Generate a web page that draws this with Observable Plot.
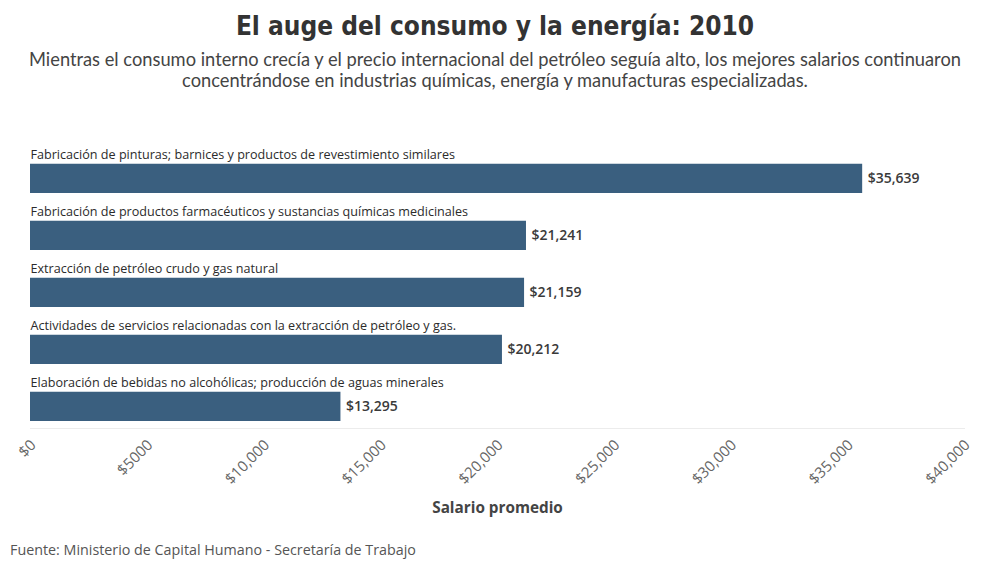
<!DOCTYPE html>
<html lang="es">
<head>
<meta charset="utf-8">
<script src="https://cdn.jsdelivr.net/npm/d3@7"></script>
<script src="https://cdn.jsdelivr.net/npm/@observablehq/plot@0.6"></script>
<style>
  html, body { margin: 0; padding: 0; background: #fff; }
  body { width: 990px; height: 570px; position: relative; overflow: hidden; font-family: "Open Sans", sans-serif; }
  #title { position: absolute; left: 0; width: 990px; top: 9px; text-align: center;
           font-family: "Liberation Sans Narrow", "DejaVu Sans Condensed", sans-serif;
           font-weight: 700; font-size: 26px; line-height: 34px; color: #333; }
  #subtitle { position: absolute; left: 0; width: 990px; top: 49px; text-align: center;
              font-family: Lato, sans-serif; font-size: 18.3px; line-height: 21px; color: #444; }
  #chart { position: absolute; left: 0; top: 130px; }
  #source { position: absolute; left: 10px; top: 541px; font-family: "Open Sans", sans-serif;
            font-size: 14.3px; line-height: 18px; color: #555; }
</style>
</head>
<body>
<div id="title">El auge del consumo y la energía: 2010</div>
<div id="subtitle">Mientras el consumo interno crecía y el precio internacional del petróleo seguía alto, los mejores salarios continuaron<br>concentrándose en industrias químicas, energía y manufacturas especializadas.</div>
<div id="chart"></div>
<div id="source">Fuente: Ministerio de Capital Humano - Secretaría de Trabajo</div>
<script>
// Sectors with the highest average salary, 2010
const sectors = [
  "Fabricación de pinturas; barnices y productos de revestimiento similares",
  "Fabricación de productos farmacéuticos y sustancias químicas medicinales",
  "Extracción de petróleo crudo y gas natural",
  "Actividades de servicios relacionadas con la extracción de petróleo y gas.",
  "Elaboración de bebidas no alcohólicas; producción de aguas minerales"
];
const salaries = [35639, 21241, 21159, 20212, 13295];

const tickValues = [0, 5000, 10000, 15000, 20000, 25000, 30000, 35000, 40000];
const tickLabels = ["$0", "$5000", "$10,000", "$15,000", "$20,000", "$25,000", "$30,000", "$35,000", "$40,000"];
const axisTitle = "Salario promedio";

const rows = sectors.map((sector, i) => ({sector, salary: salaries[i]}));
const money = d3.format("$,");
const barColor = "#3a5f7f";

const chart = Plot.plot({
  width: 990,
  height: 400,
  marginLeft: 30,
  marginRight: 26,
  marginTop: 9,
  marginBottom: 102,
  style: {fontFamily: "'Open Sans', sans-serif", background: "#fff"},
  x: {domain: [0, 40000]},
  y: {domain: sectors, padding: 0, axis: null},
  marks: [
    Plot.gridX(tickValues, {stroke: "#ececec", strokeOpacity: 1, y1: 4}),
    Plot.frame({anchor: "bottom", stroke: "#ececec"}),
    Plot.barX(rows, {x: "salary", y: "sector", fill: barColor, insetTop: 22.75, insetBottom: 5}),
    Plot.text(rows, {
      x: 0, y: "sector", text: "sector", textAnchor: "start", lineAnchor: "middle",
      dy: -15.2, fontSize: 12.6, fontWeight: 500, fill: "#2b2b2b"
    }),
    Plot.text(rows, {
      x: "salary", y: "sector", text: d => money(d.salary), textAnchor: "start", lineAnchor: "middle",
      dx: 5, dy: 8.9, fontSize: 14, fontWeight: 600, fill: "#3a3a3a"
    }),
    Plot.axisX(tickValues, {
      tickSize: 0, tickPadding: 12, tickRotate: -45, dx: 3, dy: 2,
      tickFormat: (d, i) => tickLabels[i], fontSize: 15, fill: "#666", label: null
    }),
    Plot.text([axisTitle], {
      frameAnchor: "bottom", dy: 84, text: d => d, fontSize: 15.3, fontWeight: 700, fill: "#444"
    })
  ]
});
document.getElementById("chart").appendChild(chart);
</script>
</body>
</html>
